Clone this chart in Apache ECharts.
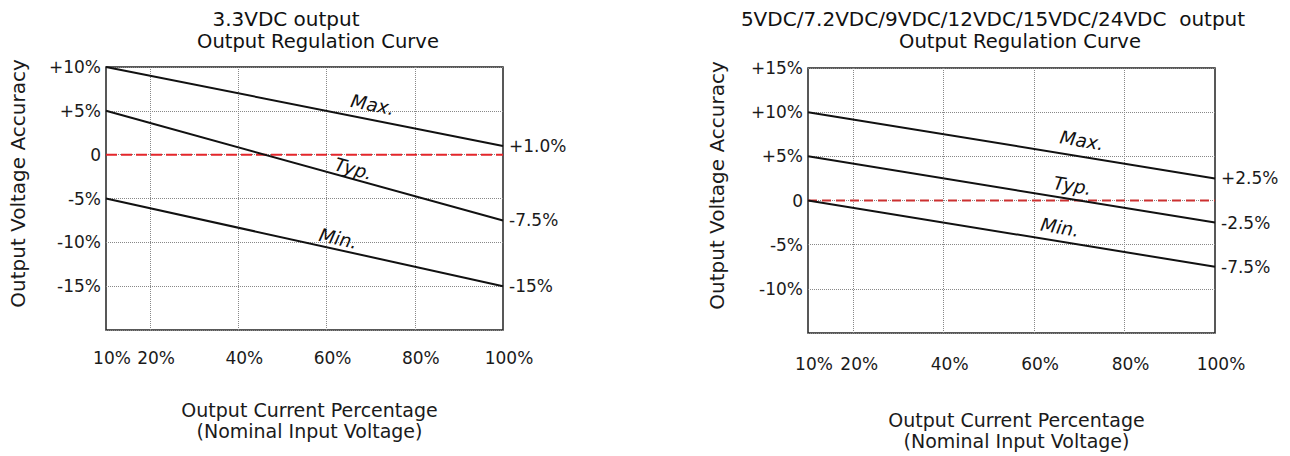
<!DOCTYPE html>
<html><head><meta charset="utf-8">
<script src="https://cdn.jsdelivr.net/npm/echarts@6/dist/echarts.min.js"></script>
<style>html,body{margin:0;padding:0;background:#fff}#c{width:1290px;height:456px}</style>
</head><body><div id="c"></div>
<script>
// ---- data ----
const xLoad = [10, 100];
const xTickLabels = [10, 20, 40, 60, 80, 100];
const xGridLines = [20, 40, 60, 80];
const curveNames = ['Max.', 'Typ.', 'Min.'];
const leftMax = [10, 1.0];
const leftTyp = [5, -7.5];
const leftMin = [-5, -15];
const leftEndLabels = ['+1.0%', '-7.5%', '-15%'];
const rightMax = [10, 2.5];
const rightTyp = [5, -2.5];
const rightMin = [0, -7.5];
const rightEndLabels = ['+2.5%', '-2.5%', '-7.5%'];
const zeroRef = [0, 0];
const titles = ['3.3VDC output', '5VDC/7.2VDC/9VDC/12VDC/15VDC/24VDC  output'];
const subtitle = 'Output Regulation Curve';
const xName = 'Output Current Percentage\n(Nominal Input Voltage)';
const yName = 'Output Voltage Accuracy';

// ---- layout / style ----
const charts = [
  {curves:[leftMax,leftTyp,leftMin], ends:leftEndLabels, grid:{left:106, top:67, width:397, height:263},
   yMin:-20, yMax:10, titleX:286, subX:318, labelAt:[69.8,65.5,62.1], labelLift:[15,10,11], rotate:[-11.3,-15.5,-12.5],
   xNameGap:69, yNameGap:78, xLabelMargin:19, red:'#e3262b', redDash:[11,4]},
  {curves:[rightMax,rightTyp,rightMin], ends:rightEndLabels, grid:{left:808, top:68, width:407, height:270},
   yMin:-15, yMax:15, titleX:993, subX:1020, labelAt:[70,68,65.2], labelLift:[16,13.5,14], rotate:[-9.4,-9.4,-9.4],
   xNameGap:76, yNameGap:81, xLabelMargin:22, red:'#cc3030', redDash:[9,5]}
];
const TXT = '#1a1a1a';
const FONT = 'DejaVu Sans';

function yAt(vals, x){ return vals[0] + (vals[1]-vals[0])*(x - xLoad[0])/(xLoad[1]-xLoad[0]); }

const grid = [], xAxis = [], yAxis = [], series = [], title = [];
charts.forEach((c, i) => {
  grid.push(Object.assign({show:true, borderColor:'#222', borderWidth:1.5, backgroundColor:'transparent', containLabel:false}, c.grid));
  title.push({text: titles[i], left: c.titleX, top: 8, textAlign:'center', padding:0,
    textStyle:{fontFamily:FONT, fontSize:20, lineHeight:22, fontWeight:'normal', color:'#111'}});
  title.push({text: subtitle, left: c.subX, top: 31, textAlign:'center', padding:0,
    textStyle:{fontFamily:FONT, fontSize:19.5, lineHeight:21, fontWeight:'normal', color:'#111'}});
  xAxis.push({type:'value', gridIndex:i, min:10, max:100,
    axisLine:{show:false}, axisTick:{show:false, customValues:xGridLines},
    axisLabel:{customValues:xTickLabels, formatter:'{value}%', fontSize:17, color:TXT, fontFamily:FONT, margin:c.xLabelMargin, padding:[0,0,0,12]},
    splitLine:{show:true, lineStyle:{type:'dotted', color:'#888', width:1}},
    name:xName, nameLocation:'middle', nameGap:c.xNameGap,
    nameTextStyle:{fontSize:19, lineHeight:21, color:TXT, fontFamily:FONT, padding:[0,0,0,10]}});
  yAxis.push({type:'value', gridIndex:i, min:c.yMin, max:c.yMax, interval:5,
    axisLine:{show:false}, axisTick:{show:false},
    axisLabel:{fontSize:17, color:TXT, fontFamily:FONT, margin:5, showMaxLabel:true,
      formatter: v => v === c.yMin ? '' : (v > 0 ? '+' + v + '%' : (v === 0 ? '0' : v + '%'))},
    splitLine:{show:true, lineStyle:{type:'dotted', color:'#888', width:1}},
    name:yName, nameLocation:'middle', nameGap:c.yNameGap,
    nameTextStyle:{fontSize:20, color:TXT, fontFamily:FONT, padding:[0,0,0,30]}});
  series.push({type:'line', xAxisIndex:i, yAxisIndex:i, z:1, symbol:'none', silent:true,
    data: xLoad.map((x,j)=>[x, zeroRef[j]]),
    lineStyle:{color:c.red, width:2, type:c.redDash}});
  c.curves.forEach((vals, k) => {
    const xa = c.labelAt[k];
    series.push({type:'line', name:curveNames[k], xAxisIndex:i, yAxisIndex:i, z:3, symbol:'none', silent:true,
      data: xLoad.map((x,j)=>[x, vals[j]]),
      endLabel:{show:true, formatter:c.ends[k], distance:6, fontSize:17, color:TXT, fontFamily:FONT},
      lineStyle:{color:'#111', width:2},
      markPoint:{symbol:'circle', symbolSize:0, silent:true,
        data:[{coord:[xa, yAt(vals, xa)]}],
        label:{show:true, formatter:curveNames[k], position:'inside', offset:[0, -c.labelLift[k]], rotate:c.rotate[k],
          fontStyle:'italic', fontSize:18.5, color:'#111', fontFamily:FONT}}
    });
  });
});

const chart = echarts.init(document.getElementById('c'), null, {renderer:'svg'});
chart.setOption({animation:false, backgroundColor:'#fff', textStyle:{fontFamily:FONT}, title, grid, xAxis, yAxis, series});
</script></body></html>
